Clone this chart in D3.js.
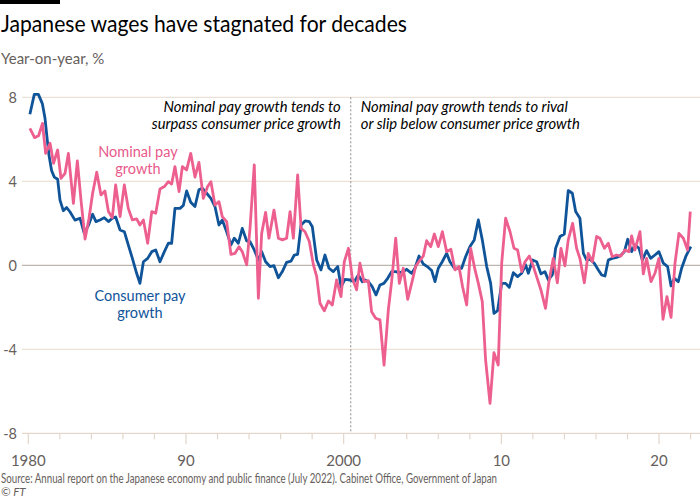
<!DOCTYPE html>
<html><head><meta charset="utf-8">
<script src="https://cdn.jsdelivr.net/npm/d3@7"></script>
<style>
html,body{margin:0;padding:0;background:#fff;}
svg{display:block;font-family:Lato,"Open Sans",sans-serif;}
</style></head>
<body><svg id="chart" width="700" height="500"></svg>
<script>
// ---- data ----
const nominalYears = [1980.1,1980.4,1980.65,1980.9,1981.1,1981.38,1981.6,1981.86,1982.07,1982.33,1982.54,1982.86,1983.11,1983.34,1983.6,1983.85,1984.08,1984.34,1984.61,1984.86,1985.08,1985.33,1985.54,1985.82,1986.09,1986.34,1986.6,1986.87,1987.08,1987.3,1987.57,1987.83,1988.08,1988.35,1988.63,1988.88,1989.09,1989.3,1989.56,1989.77,1990.04,1990.3,1990.57,1990.82,1991.1,1991.37,1991.58,1991.84,1992.09,1992.3,1992.58,1992.85,1993.11,1993.36,1993.57,1993.85,1994.06,1994.33,1994.59,1994.8,1995.05,1995.26,1995.58,1995.86,1996.11,1996.38,1996.6,1996.81,1997.08,1997.3,1997.55,1997.82,1998.08,1998.29,1998.5,1998.77,1999.03,1999.28,1999.55,1999.83,2000.04,2000.3,2000.55,2000.82,2001.03,2001.29,2001.56,2001.77,2002.03,2002.3,2002.56,2002.83,2003.04,2003.3,2003.53,2003.78,2004.06,2004.31,2004.56,2004.84,2005.05,2005.26,2005.52,2005.75,2006.0,2006.26,2006.53,2006.8,2007.06,2007.31,2007.54,2007.8,2008.05,2008.33,2008.54,2008.79,2009.0,2009.28,2009.53,2009.8,2010.02,2010.27,2010.55,2010.8,2011.03,2011.29,2011.5,2011.77,2012.03,2012.24,2012.5,2012.8,2013.0,2013.29,2013.55,2013.78,2014.03,2014.24,2014.52,2014.77,2014.98,2015.26,2015.51,2015.77,2016.04,2016.25,2016.53,2016.78,2017.03,2017.31,2017.58,2017.84,2018.09,2018.26,2018.47,2018.79,2019.0,2019.21,2019.49,2019.74,2019.99,2020.25,2020.5,2020.76,2021.01,2021.26,2021.54,2021.81,2021.98];
const nominalValues = [6.52,6.08,6.17,6.76,5.33,5.81,4.86,5.49,4.14,4.38,5.33,2.95,4.97,3.11,1.25,2.24,3.43,4.43,3.35,3.54,2.56,2.27,3.83,2.32,3.83,2.71,2.16,2.21,1.92,2.16,1.05,2.56,2.48,3.63,3.75,3.98,3.87,4.7,3.51,4.7,4.54,5.33,4.2,4.9,3.19,3.75,3.98,2.87,3.03,2.32,2.08,0.52,0.57,0.89,0.65,0.02,1.76,4.78,-1.57,1.52,2.52,1.29,2.63,1.29,1.21,1.29,2.56,1.29,4.3,1.76,1.6,1.13,0.02,-0.54,-1.81,-2.17,-1.7,-1.89,-0.7,-1.49,0.17,0.81,-0.62,-1.17,0.1,-0.78,-0.73,-2.21,-2.52,-2.6,-4.75,-2.13,-0.78,1.29,-0.86,-0.14,-1.62,-0.86,-0.06,0.25,0.44,1.17,0.89,1.49,0.89,1.6,0.65,0.76,-0.22,-0.06,-1.02,-1.89,0.81,-0.22,-0.86,-1.73,-4.51,-6.57,-4.16,-4.75,0.1,2.24,1.6,0.81,0.73,-0.3,0.17,0.44,-0.06,-0.55,-1.15,-2.05,-0.86,0.33,-0.83,0.81,-0.03,1.21,2.0,0.81,0.33,-0.83,0.57,0.17,1.37,1.29,0.81,1.05,0.41,0.49,0.44,0.73,0.65,1.4,0.73,1.6,-0.41,0.33,-0.78,-0.38,0.33,-2.57,-1.49,-2.48,0.1,1.52,1.29,0.73,2.56];

const consumerYears = [1980.1,1980.38,1980.64,1980.89,1981.06,1981.17,1981.31,1981.48,1981.65,1981.86,1982.01,1982.22,1982.43,1982.64,1982.96,1983.28,1983.55,1983.81,1984.08,1984.29,1984.55,1984.82,1985.08,1985.33,1985.54,1985.82,1986.09,1986.34,1986.6,1986.87,1987.08,1987.3,1987.57,1987.83,1988.08,1988.35,1988.63,1988.88,1989.09,1989.3,1989.62,1989.83,1990.04,1990.3,1990.57,1990.82,1991.03,1991.31,1991.58,1991.84,1992.09,1992.3,1992.58,1992.85,1993.06,1993.32,1993.57,1993.85,1994.06,1994.33,1994.59,1994.8,1995.05,1995.33,1995.58,1995.86,1996.11,1996.38,1996.66,1996.87,1997.08,1997.3,1997.55,1997.82,1998.01,1998.29,1998.56,1998.81,1999.07,1999.34,1999.62,1999.83,2000.08,2000.4,2000.67,2000.93,2001.18,2001.35,2001.56,2001.81,2002.05,2002.3,2002.55,2002.79,2003.04,2003.3,2003.53,2003.78,2003.99,2004.31,2004.52,2004.78,2005.05,2005.3,2005.58,2005.79,2006.0,2006.25,2006.53,2006.74,2007.02,2007.27,2007.48,2007.73,2008.01,2008.28,2008.54,2008.79,2009.07,2009.32,2009.53,2009.76,2010.02,2010.27,2010.5,2010.76,2011.03,2011.29,2011.54,2011.71,2011.98,2012.24,2012.51,2012.76,2012.98,2013.23,2013.44,2013.72,2013.99,2014.24,2014.5,2014.71,2014.98,2015.2,2015.41,2015.62,2015.89,2016.15,2016.36,2016.57,2016.78,2017.03,2017.31,2017.52,2017.8,2018.01,2018.26,2018.47,2018.73,2018.94,2019.21,2019.47,2019.74,2019.99,2020.27,2020.54,2020.76,2020.97,2021.22,2021.43,2021.69,2021.9,2022.02];
const consumerValues = [7.19,8.14,8.14,7.7,7.0,6.2,5.25,4.5,4.2,4.1,3.1,2.6,2.75,2.55,2.15,2.24,1.52,1.9,2.43,2.08,2.16,2.27,2.08,2.24,2.3,1.68,1.6,0.97,0.33,-0.38,-0.86,0.17,0.33,0.65,0.73,0.17,0.65,1.05,1.05,2.71,2.71,2.85,3.54,3.0,2.8,3.6,3.67,3.43,3.19,2.79,1.92,2.16,1.6,0.97,1.29,1.05,1.76,1.16,1.13,0.73,0.25,0.65,0.17,-0.06,-0.02,-0.59,-0.3,0.14,0.2,0.49,0.52,1.92,2.11,2.08,1.84,0.25,-0.22,0.49,-0.14,-0.3,-0.06,-1.02,-0.67,-0.7,-0.78,-0.46,-0.78,-0.7,-0.78,-1.02,-1.41,-0.94,-0.86,-0.62,-0.3,-0.3,-0.35,-0.3,-0.19,-0.38,-0.14,0.44,0.06,-0.06,-0.25,-0.78,-0.14,0.17,0.57,0.17,-0.14,-0.14,-0.14,0.41,0.89,1.21,2.16,1.21,-0.06,-0.86,-2.29,-2.16,-0.86,-0.86,-1.05,-0.35,-0.54,-0.38,0.02,-0.38,0.25,0.17,-0.41,-0.3,-0.7,-0.46,0.81,1.37,1.49,3.56,3.43,2.56,2.24,0.57,0.25,0.29,0.1,-0.22,-0.46,-0.51,0.25,0.33,0.38,0.44,0.65,1.24,0.65,0.97,0.81,0.25,0.7,0.33,0.49,0.65,0.1,-0.06,-0.98,-0.62,-0.78,-0.14,0.41,0.73,0.89];

const yTicks = [-8,-4,0,4,8];
const xTickYears = d3.range(1980, 2023, 2);
const xLabelYears = [1980,1990,2000,2010,2020];
const xLabelText = ["1980","90","2000","10","20"];
const splitYear = 2000.45;

// ---- drawing ----
const svg = d3.select("#chart");
const grey = "#66605c";
const x = d3.scaleLinear().domain([1980, 2022]).range([28.3, 690.6]);
const y = d3.scaleLinear().domain([-8, 8]).range([433.3, 97.3]);

svg.append("rect").attr("x",0).attr("y",0).attr("width",60).attr("height",4).attr("fill","#000");
svg.append("text").attr("x",1).attr("y",32).attr("font-size",22.5).attr("fill","#000")
  .attr("textLength",406).attr("lengthAdjust","spacingAndGlyphs")
  .text("Japanese wages have stagnated for decades");
svg.append("text").attr("x",1).attr("y",64).attr("font-size",15).attr("fill",grey)
  .text("Year-on-year, %");

// gridlines
svg.append("g").selectAll("line").data(yTicks.filter(d => d !== -8)).join("line")
  .attr("x1",22).attr("x2",700).attr("y1",d=>y(d)).attr("y2",d=>y(d))
  .attr("stroke", d => d === 0 ? "#bdb6ae" : "#ebe1d8").attr("stroke-width",1.2);

// y labels
svg.append("g").selectAll("text").data(yTicks).join("text")
  .attr("x",17).attr("y",d=>y(d)).attr("dy","0.36em").attr("text-anchor","end")
  .attr("font-size",14.5).attr("fill",grey).text(d => d < 0 ? "-" + Math.abs(d) : d);

// x axis
const xAxis = d3.axisBottom(x).tickValues(xTickYears).tickFormat("")
  .tickSizeInner(0).tickSizeOuter(0);
const gx = svg.append("g").attr("transform",`translate(0,${y(-8)})`).call(xAxis);
gx.select(".domain").remove();
svg.append("line").attr("x1",22).attr("x2",700).attr("y1",y(-8)).attr("y2",y(-8))
  .attr("stroke","#e3d6cb").attr("stroke-width",1.2);
svg.append("g").selectAll("line").data(xTickYears).join("line")
  .attr("x1",d=>x(d)).attr("x2",d=>x(d)).attr("y1",y(-8))
  .attr("y2",d=> xLabelYears.includes(d) ? y(-8)+11 : y(-8)+6)
  .attr("stroke","#e3d6cb").attr("stroke-width",1.2);
svg.append("g").selectAll("text").data(xLabelYears).join("text")
  .attr("x",d=>x(d)).attr("y",466).attr("text-anchor","middle")
  .attr("font-size",15).attr("fill",grey).text((d,i)=>xLabelText[i]);

// split line
svg.append("line").attr("x1",x(splitYear)).attr("x2",x(splitYear))
  .attr("y1",y(8)).attr("y2",y(-8)).attr("stroke","#8f8a86")
  .attr("stroke-width",1).attr("stroke-dasharray","2,2");

// annotations
const annL = svg.append("text").attr("font-size",14.8).attr("font-style","italic")
  .attr("fill","#000").attr("text-anchor","end");
annL.append("tspan").attr("x",x(splitYear)-10).attr("y",112).text("Nominal pay growth tends to");
annL.append("tspan").attr("x",x(splitYear)-10).attr("y",128.5).text("surpass consumer price growth");
const annR = svg.append("text").attr("font-size",14.8).attr("font-style","italic")
  .attr("fill","#000").attr("text-anchor","start");
annR.append("tspan").attr("x",x(splitYear)+10).attr("y",112).text("Nominal pay growth tends to rival");
annR.append("tspan").attr("x",x(splitYear)+10).attr("y",128.5).text("or slip below consumer price growth");

// lines
const line = d3.line().x(d=>x(d[0])).y(d=>y(d[1]));
const nominal = nominalYears.map((yr,i)=>[yr, nominalValues[i]]);
const consumer = consumerYears.map((yr,i)=>[yr, consumerValues[i]]);
svg.append("path").datum(consumer).attr("d",line).attr("fill","none")
  .attr("stroke","#0f5499").attr("stroke-width",2.8).attr("stroke-linejoin","round");
svg.append("path").datum(nominal).attr("d",line).attr("fill","none")
  .attr("stroke","#ec5f8f").attr("stroke-width",2.8).attr("stroke-linejoin","round");

// series labels
const labelSize = 14.5;
[["Nominal pay", 138, 157, "#e85a8b"], ["growth", 138, 174, "#e85a8b"],
 ["Consumer pay", 140, 301, "#0f5499"], ["growth", 140, 318, "#0f5499"]]
 .forEach(([t, lx, ly, c]) => {
   svg.append("text").attr("x",lx).attr("y",ly).attr("font-size",labelSize)
     .attr("fill",c).attr("text-anchor","middle").text(t);
 });

// source
svg.append("text").attr("x",1).attr("y",483).attr("font-size",12.5).attr("fill",grey)
  .attr("textLength",496).attr("lengthAdjust","spacingAndGlyphs")
  .text("Source: Annual report on the Japanese economy and public finance (July 2022). Cabinet Office, Government of Japan");
svg.append("text").attr("x",1).attr("y",496).attr("font-size",11.5).attr("fill",grey)
  .attr("font-style","italic").text("© FT");
</script></body></html>
